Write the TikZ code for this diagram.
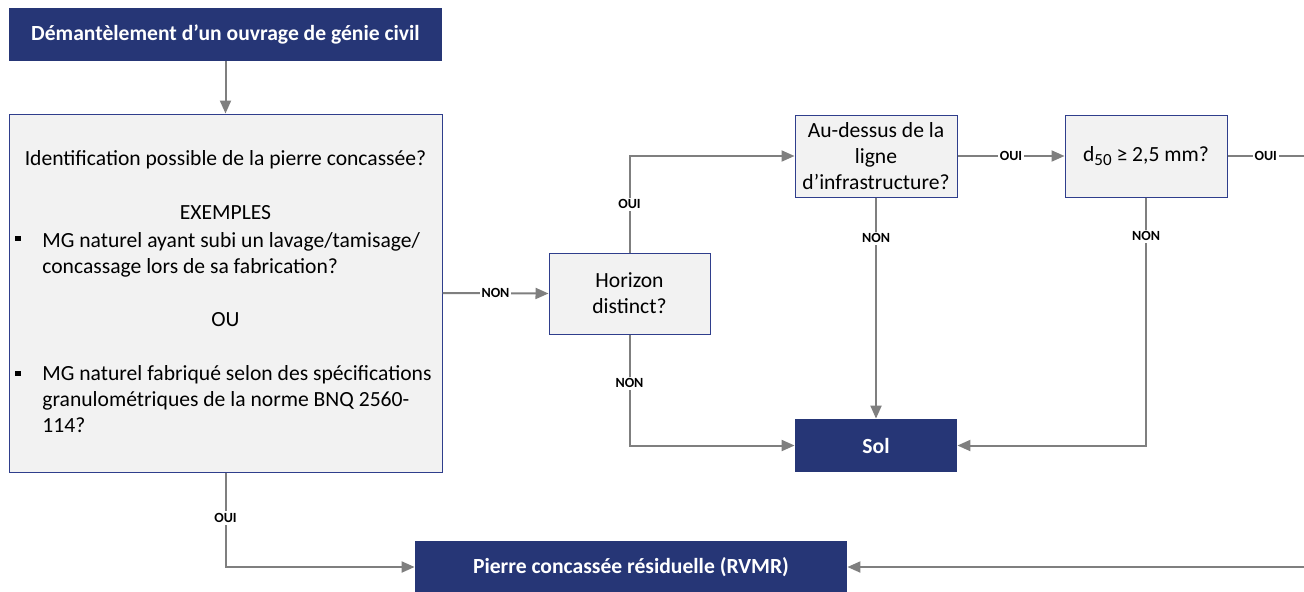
\documentclass[tikz,border=0pt]{standalone}
\usepackage{fontspec}
\setmainfont{Carlito}
\usetikzlibrary{arrows.meta,calc}
\definecolor{navy}{HTML}{263676}
\definecolor{boxgray}{HTML}{F2F2F2}
\definecolor{boxline}{HTML}{2F3E8C}
\definecolor{linegray}{HTML}{7F7F7F}

\begin{document}
\begin{tikzpicture}[x=0.5pt,y=-0.5pt,
    navybox/.style={fill=navy, text=white, inner sep=0pt,
      font=\fontsize{10.8}{12}\selectfont\bfseries},
    graybox/.style={fill=boxgray, draw=boxline, line width=0.5pt, align=center,
      inner sep=0pt, font=\fontsize{10.8}{13}\selectfont},
    corps/.style={inner sep=0pt, font=\fontsize{10.8}{13}\selectfont},
    pucetexte/.style={corps, anchor=north west, align=left},
    puce/.style={fill=black, minimum size=2.6pt, inner sep=0pt},
    flow/.style={draw=linegray, line width=1pt, -{Triangle[length=6.5pt,width=5.5pt]}},
    answer/.style={fill=white, inner sep=1pt, font=\fontsize{7}{8}\selectfont\bfseries}]
  \useasboundingbox (0,0) rectangle (1304,591);

  % boites
  \node[navybox, minimum width=216.5pt, minimum height=26.5pt] (demant) at (225.5,34.5)
    {Démantèlement d’un ouvrage de génie civil};
  \node[graybox, minimum width=216.5pt, minimum height=179pt] (ident) at (225.5,293) {};
  \node[graybox, minimum width=80.5pt, minimum height=40.5pt] (horizon) at (629.5,293.5)
    {Horizon\\distinct?};
  \node[graybox, minimum width=81pt, minimum height=41pt] (dessus) at (876,156)
    {Au-dessus de la\\ligne\\d’infrastructure?};
  \node[graybox, minimum width=81pt, minimum height=41pt] (dcinq) at (1146,156)
    {d\raisebox{-0.35ex}{\fontsize{8.5}{9}\selectfont 50} ≥ 2,5 mm?};
  \node[navybox, minimum width=81pt, minimum height=26.5pt] (sol) at (876,445.5) {Sol};
  \node[navybox, minimum width=216pt, minimum height=26pt] (rvmr) at (631,567)
    {Pierre concassée résiduelle (RVMR)};
  \coordinate (bordA) at (1304,156);
  \coordinate (bordB) at (1304,567);

  % texte de la grande boite
  \node[corps] (quest) at (225.5,160) {Identification possible de la pierre concassée?};
  \node[corps] (exemples) at (225.5,213) {EXEMPLES};
  \node[puce] (puceA) at (18,238.5) {};
  \node[pucetexte] (itemA) at (42,232)
    {MG naturel ayant subi un lavage/tamisage/\\concassage lors de sa fabrication?};
  \node[corps] (ou) at (225.5,320) {OU};
  \node[puce] (puceB) at (18,373.5) {};
  \node[pucetexte] (itemB) at (42,365.5)
    {MG naturel fabriqué selon des spécifications\\granulométriques de la norme BNQ 2560-\\114?};

  % fleches
  \draw[flow] (demant) -- (ident);
  \draw[flow] (ident.east) -- node[answer] {NON} (horizon.west);
  \draw[flow] (horizon.north) |- node[answer, pos=0.25] {OUI} (dessus.west);
  \draw[flow] (dessus) -- node[answer] {OUI} (dcinq);
  \draw[flow, -] (dcinq) -- node[answer] {OUI} (bordA);
  \draw[flow] (dessus) -- node[answer, pos=0.185] {NON} (sol);
  \draw[flow] (dcinq.south) |- node[answer, pos=0.078] {NON} (sol.east);
  \draw[flow] (horizon.south) |- node[answer, pos=0.22] {NON} (sol.west);
  \draw[flow] (ident.south) |- node[answer, pos=0.24] {OUI} (rvmr.west);
  \draw[flow] (bordB) -- (rvmr.east);
\end{tikzpicture}
\end{document}
